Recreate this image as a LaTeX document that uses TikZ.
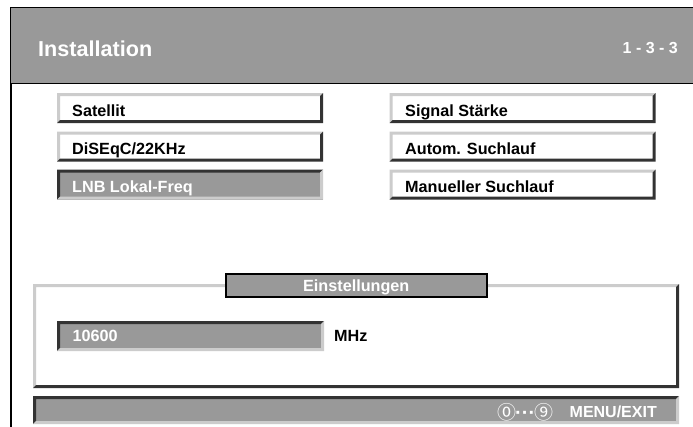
\documentclass[tikz,border=0pt]{standalone}
\usepackage{fontspec}
\setmainfont{Liberation Sans}
\newfontfamily\cjk{Noto Sans CJK JP}
\definecolor{panelgray}{HTML}{999999}
\definecolor{bevlight}{HTML}{CCCCCC}
\definecolor{bevdark}{HTML}{333333}
% #1 node name, #2 top-left colour, #3 bottom-right colour, #4 thickness
\newcommand{\bevelbox}[4]{%
  \fill[#2] (#1.south west) -- (#1.north west) -- (#1.north east)
    -- ([xshift=-#4,yshift=-#4]#1.north east) -- ([xshift=#4,yshift=-#4]#1.north west)
    -- ([xshift=#4,yshift=#4]#1.south west) -- cycle;
  \fill[#3] (#1.south west) -- (#1.south east) -- (#1.north east)
    -- ([xshift=-#4,yshift=-#4]#1.north east) -- ([xshift=-#4,yshift=#4]#1.south east)
    -- ([xshift=#4,yshift=#4]#1.south west) -- cycle;}
\tikzset{
  panel/.style={rectangle, inner sep=0pt, outer sep=0pt, anchor=north west},
  btn/.style={panel, fill=white, minimum width=266pt, minimum height=30pt},
  selbtn/.style={btn, fill=panelgray},
  menutxt/.style={anchor=base west, inner sep=0pt, font=\fontsize{16.2}{18}\selectfont\bfseries, text=black},
  seltxt/.style={menutxt, text=white},
}
\begin{document}
\begin{tikzpicture}[x=1pt,y=-1pt]
\useasboundingbox[fill=white] (0,0) rectangle (693,426);
% header and outer frame
\node[panel, draw=black, line width=1.6pt, fill=panelgray, minimum width=700pt, minimum height=76pt] (head) at (10.5,7.5) {};
\coordinate (frameEnd) at (10.5,430);
\draw[line width=2pt] (head.south west) -- (frameEnd);
\node[anchor=base west, inner sep=0pt, text=white, font=\fontsize{21.6}{24}\selectfont\bfseries] (title) at (38,56) {Installation};
\node[anchor=base east, inner sep=0pt, text=white, font=\fontsize{16}{18}\selectfont\bfseries] (page) at (678,53) {1 - 3 - 3};
% left column
\node[btn] (bSat) at (57,93) {};
\bevelbox{bSat}{bevlight}{bevdark}{3pt}
\node[menutxt] (tSat) at (72,116) {Satellit};
\node[btn] (bDis) at (57,131.5) {};
\bevelbox{bDis}{bevlight}{bevdark}{3pt}
\node[menutxt] (tDis) at (72,154) {DiSEqC/22KHz};
\node[selbtn] (bLnb) at (57,169.5) {};
\bevelbox{bLnb}{bevdark}{bevlight}{3pt}
\node[seltxt] (tLnb) at (72,192) {LNB Lokal-Freq};
% right column
\node[btn] (bSig) at (389.5,93) {};
\bevelbox{bSig}{bevlight}{bevdark}{3pt}
\node[menutxt] (tSig) at (405,116) {Signal Stärke};
\node[btn] (bAut) at (389.5,131.5) {};
\bevelbox{bAut}{bevlight}{bevdark}{3pt}
\node[menutxt] (tAut) at (405,154) {Autom. Suchlauf};
\node[btn] (bMan) at (389.5,169.5) {};
\bevelbox{bMan}{bevlight}{bevdark}{3pt}
\node[menutxt] (tMan) at (405,192) {Manueller Suchlauf};
% settings group
\node[panel, fill=white, minimum width=646pt, minimum height=104pt] (grp) at (33,284) {};
\bevelbox{grp}{bevlight}{bevdark}{3pt}
\node[panel, draw=black, line width=2pt, fill=panelgray, minimum width=260.5pt, minimum height=23pt,
  text=white, font=\fontsize{16.2}{18}\selectfont\bfseries, text height=13pt, text depth=0pt] (grpTitle) at (226,273.7) {Einstellungen};
\node[panel, fill=panelgray, minimum width=267pt, minimum height=30pt] (field) at (57,321) {};
\bevelbox{field}{bevdark}{bevlight}{3pt}
\node[seltxt] (tField) at (72.5,341.7) {10600};
\node[menutxt] (unit) at (334,341.7) {MHz};
% bottom bar
\node[panel, fill=panelgray, minimum width=646pt, minimum height=28pt] (bar) at (33,396) {};
\bevelbox{bar}{bevdark}{bevlight}{3pt}
\node[anchor=base west, inner sep=0pt, text=white] (keys) at (497,419)
  {{\fontsize{19}{20}\selectfont\cjk ⓪}{\fontsize{20}{20}\selectfont\bfseries\kern-1pt···\kern-1pt}{\fontsize{19}{20}\selectfont\cjk ⑨}};
\node[anchor=base east, inner sep=0pt, text=white, font=\fontsize{16}{18}\selectfont\bfseries] (menu) at (657,417.7) {MENU/EXIT};
\end{tikzpicture}
\end{document}
